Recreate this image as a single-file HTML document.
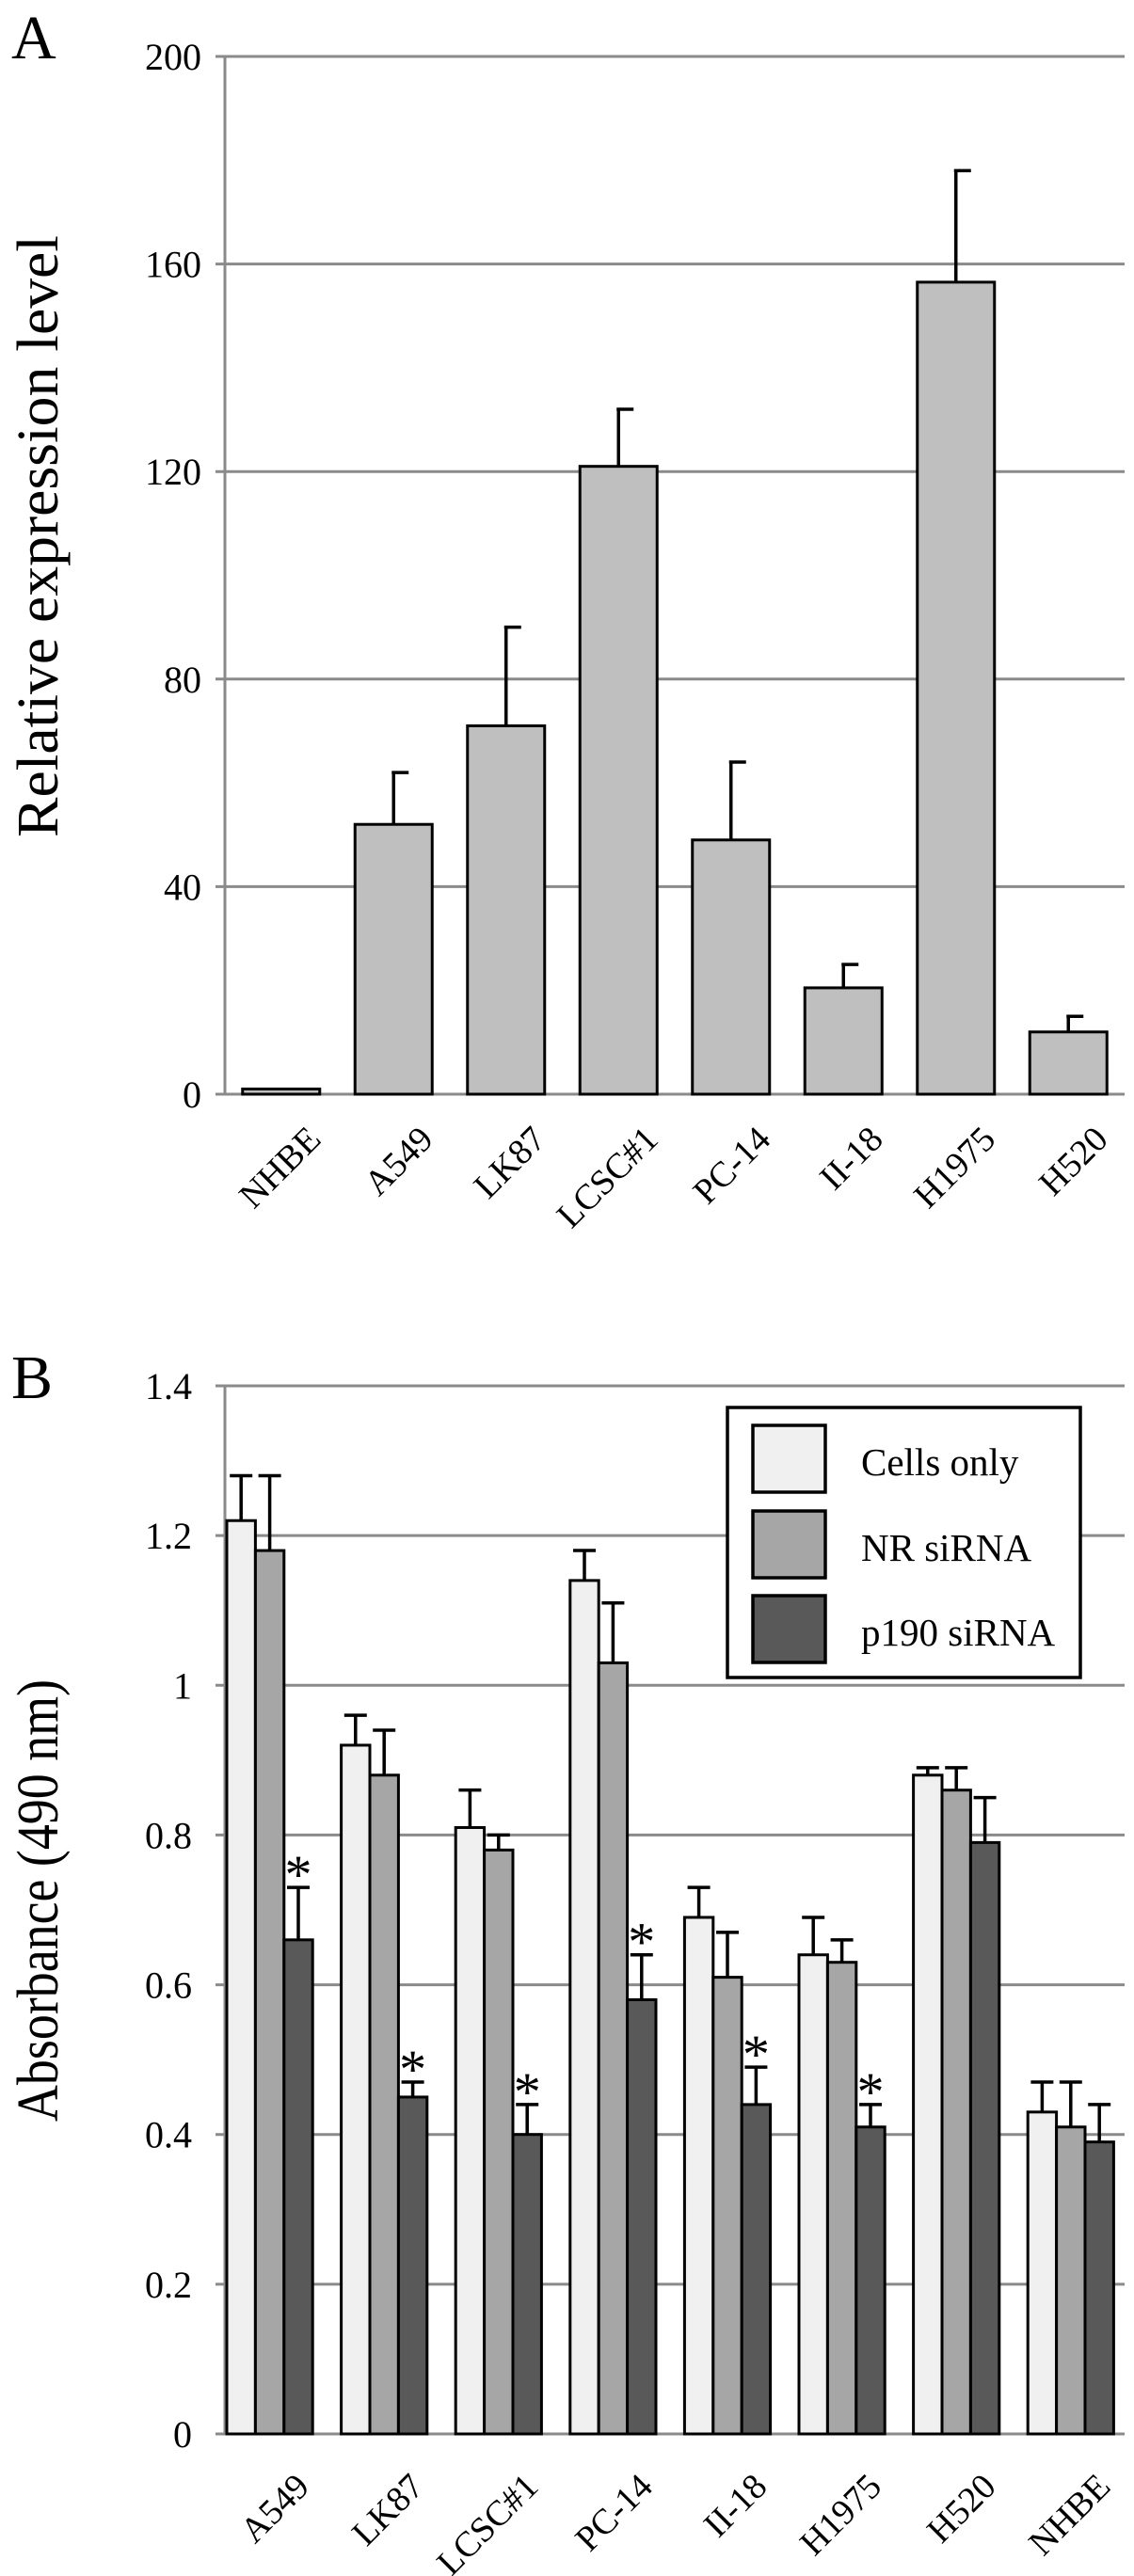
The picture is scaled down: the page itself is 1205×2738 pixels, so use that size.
<!DOCTYPE html>
<html><head><meta charset="utf-8"><style>
html,body{margin:0;padding:0;background:#fff}
svg{display:block}
text{font-family:"Liberation Serif",serif;fill:#000}
</style></head><body>
<svg id="fig" width="1205" height="2738" viewBox="0 0 1205 2738" xmlns="http://www.w3.org/2000/svg">
<text x="12" y="62" font-size="66">A</text>
<text x="12" y="1486" font-size="66">B</text>
<g id="chartA"></g>
<g id="chartB"></g>
</svg>
<script>
const catsA = ["NHBE","A549","LK87","LCSC#1","PC-14","II-18","H1975","H520"];
const valsA = [1,52,71,121,49,20.5,156.5,12];
const errA = [0,10,19,11,15,4.5,21.5,3];
const ticksA = [0,40,80,120,160,200];

const catsB = ["A549","LK87","LCSC#1","PC-14","II-18","H1975","H520","NHBE"];
const seriesNames = ["Cells only","NR siRNA","p190 siRNA"];
const cellsOnly = [1.22,0.92,0.81,1.14,0.69,0.64,0.88,0.43];
const nrSirna = [1.18,0.88,0.78,1.03,0.61,0.63,0.86,0.41];
const p190Sirna = [0.66,0.45,0.40,0.58,0.44,0.41,0.79,0.39];
const cellsErr = [0.06,0.04,0.05,0.04,0.04,0.05,0.01,0.04];
const nrErr = [0.10,0.06,0.02,0.08,0.06,0.03,0.03,0.06];
const p190Err = [0.07,0.02,0.04,0.06,0.05,0.03,0.06,0.05];
const significant = [true,true,true,true,true,true,false,false];
const ticksB = [0,0.2,0.4,0.6,0.8,1,1.2,1.4];

const NS="http://www.w3.org/2000/svg";
function mk(parent,tag,attrs,txt){const e=document.createElementNS(NS,tag);for(const k in attrs)e.setAttribute(k,attrs[k]);if(txt!==undefined)e.textContent=txt;parent.appendChild(e);return e;}

// Chart A
(function(){
const g=document.getElementById('chartA');
const x0=239,x1=1195,yTop=60,yBot=1163,max=200;
const y=v=>yBot-(v/max)*(yBot-yTop);
const step=(x1-x0)/catsA.length;
const cx=i=>x0+step*(i+0.5);
ticksA.forEach(t=>{
 const l=mk(g,'line',{x1:x0-10,x2:x1,y1:y(t),y2:y(t),stroke:'#8a8a8a','stroke-width':3});
 
 
 const tx=mk(g,'text',{x:214,y:y(t)+14,'font-size':40,'text-anchor':'end'},String(t));
 
 
});
const ax=mk(g,'line',{x1:x0,x2:x0,y1:yTop,y2:yBot,stroke:'#8a8a8a','stroke-width':3});


const bw=82;
catsA.forEach((c,i)=>{
 const top=y(valsA[i]+errA[i]);
 if(errA[i]>0){
 const e=mk(g,'path',{d:`M${cx(i)},${y(valsA[i])}V${top}M${cx(i)-2},${top}h18`,stroke:'#000','stroke-width':3.5,fill:'none'});
 
 
 }
 const r=mk(g,'rect',{x:cx(i)-bw/2,y:y(valsA[i]),width:bw,height:yBot-y(valsA[i]),fill:'#bfbfbf',stroke:'#000','stroke-width':3});
 
 
 const lx=cx(i)+44, ly=yBot+50;
 const t=mk(g,'text',{x:lx,y:ly,'font-size':38,'text-anchor':'end',transform:`rotate(-45 ${lx} ${ly})`},c);
 
 
});
const tt=mk(g,'text',{x:0,y:0,'font-size':62,'text-anchor':'middle',textLength:640,lengthAdjust:'spacingAndGlyphs',transform:'translate(61 570) rotate(-90)'},'Relative expression level');


})();

// Chart B
(function(){
const g=document.getElementById('chartB');
const x0=239,x1=1195,yTop=1473,yBot=2587,max=1.4;
const y=v=>yBot-(v/max)*(yBot-yTop);
const gstep=121.6,gstart=241,bw=30.4;
const series=[cellsOnly,nrSirna,p190Sirna];
const errs=[cellsErr,nrErr,p190Err];
const fills=['#f0f0f0','#a6a6a6','#595959'];
ticksB.forEach(t=>{
 const l=mk(g,'line',{x1:x0-10,x2:x1,y1:y(t),y2:y(t),stroke:'#8a8a8a','stroke-width':3});
 
 
 const tx=mk(g,'text',{x:204,y:y(t)+14,'font-size':40,'text-anchor':'end'},String(t));
 
 
});
const ax=mk(g,'line',{x1:x0,x2:x0,y1:yTop,y2:yBot,stroke:'#8a8a8a','stroke-width':3});


const lg=mk(g,'g',{});


mk(lg,'rect',{x:773,y:1496,width:375,height:287,fill:'#fff',stroke:'#000','stroke-width':3.5});
const rowsY=[1515,1606,1696];
seriesNames.forEach((n,k)=>{
 const sw=mk(lg,'rect',{x:800,y:rowsY[k],width:77,height:71,fill:fills[k],stroke:'#000','stroke-width':3.5});
 
 
 const lt=mk(lg,'text',{x:915,y:rowsY[k]+53,'font-size':41},n);
 
 
});
catsB.forEach((c,i)=>{
 series.forEach((s,k)=>{
  const bx=gstart+gstep*i+bw*k;
  const top=y(s[i]+errs[k][i]);
  const mid=bx+bw/2;
  const e=mk(g,'path',{d:`M${mid},${y(s[i])}V${top}M${mid-12},${top}h24`,stroke:'#000','stroke-width':3.5,fill:'none'});
  
  
  const r=mk(g,'rect',{x:bx,y:y(s[i]),width:bw,height:yBot-y(s[i]),fill:fills[k],stroke:'#000','stroke-width':3});
  
  
  if(k===2&&significant[i]){
   const st=mk(g,'text',{x:mid,y:top+6,'font-size':58,'text-anchor':'middle'},'*');
   
   
  }
 });
 const lx=gstart+gstep*i+45.6+44, ly=yBot+58;
 const t=mk(g,'text',{x:lx,y:ly,'font-size':38,'text-anchor':'end',transform:`rotate(-45 ${lx} ${ly})`},c);
 
 
});
const tt=mk(g,'text',{x:0,y:0,'font-size':62,'text-anchor':'middle',textLength:470,lengthAdjust:'spacingAndGlyphs',transform:'translate(61 2020) rotate(-90)'},'Absorbance (490 nm)');


})();
</script>
</body></html>
